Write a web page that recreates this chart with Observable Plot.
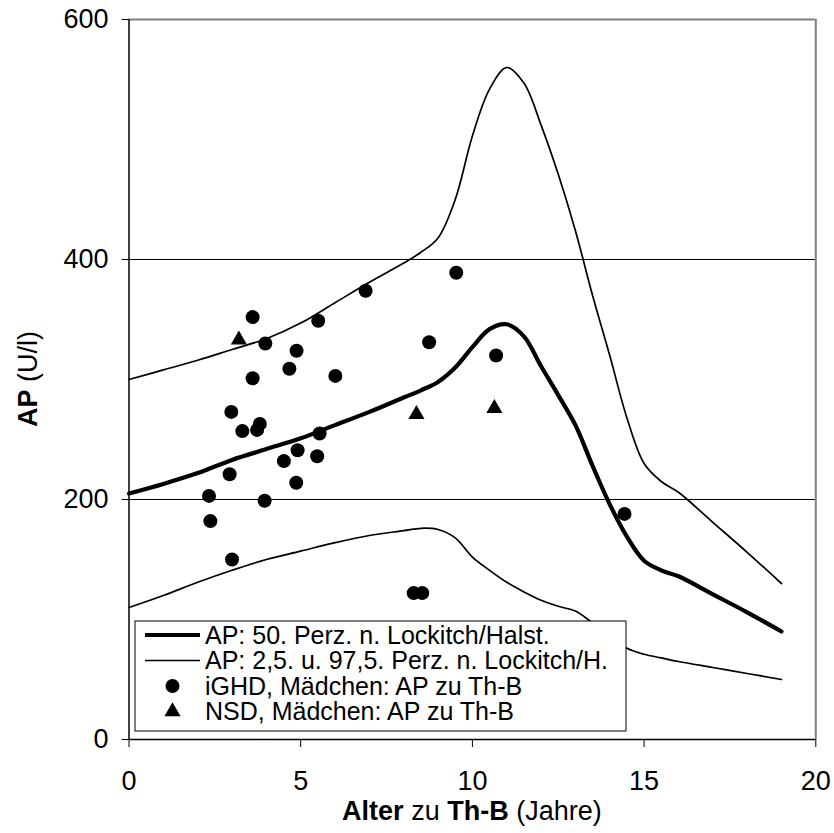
<!DOCTYPE html>
<html>
<head>
<meta charset="utf-8">
<script src="https://cdn.jsdelivr.net/npm/d3@7"></script>
<script src="https://cdn.jsdelivr.net/npm/@observablehq/plot@0.6"></script>
<style>
  body { margin: 0; background: #fff; }
  #chart { position: relative; width: 834px; height: 833px; }
</style>
</head>
<body>
<div id="chart"></div>
<script>
// Percentile curves (Lockitch/Halstead), age in years
const ages  = [0, 1, 2, 3, 4, 5, 6, 7, 8, 8.5, 9, 9.5, 10, 10.5, 11, 11.5, 12, 12.5, 13, 13.5, 14, 14.5, 15, 15.5, 16, 17, 18, 19];
const p975  = [300, 308, 316, 325, 334, 347, 364, 381, 397, 406, 418, 450, 503, 542, 560, 547, 512, 471, 424, 370, 320, 268, 230, 215, 206, 181, 156, 130];
const p50   = [205, 213, 222, 233, 242, 251, 262, 273, 285, 291, 298, 310, 327, 342, 346, 336, 311, 287, 262, 228, 196, 169, 149, 141, 136, 121, 106, 90];
const p025  = [110, 120, 131, 141, 150, 157, 164, 170, 174, 176, 175, 168, 152, 141, 131, 123, 116, 111, 107, 97, 86, 76, 71, 68, 65, 60, 55, 50];

// iGHD girls: AP at Th-B
const ighdAge = [3.60, 5.51, 6.89, 3.97, 4.88, 4.67, 3.60, 6.01, 2.98, 3.30, 3.81, 3.73, 5.55, 4.91, 4.51, 5.48, 2.93, 4.87, 2.33, 3.95, 2.37, 3.00, 9.53, 8.74, 10.69, 14.43, 8.29, 8.54];
const ighdAP  = [352, 349, 374, 330, 324, 309, 301, 303, 273, 257, 263, 258, 255, 241, 232, 236, 221, 214, 203, 199, 182, 150, 389, 331, 320, 188, 122, 122];

// NSD girls: AP at Th-B
const nsdAge = [3.20, 8.37, 10.64];
const nsdAP  = [333, 271, 276];

const xTicks = [0, 5, 10, 15, 20];
const yTicks = [0, 200, 400, 600];
const gridValues = [200, 400];

const legendLabels = [
  "AP: 50. Perz. n. Lockitch/Halst.",
  "AP: 2,5. u. 97,5. Perz. n. Lockitch/H.",
  "iGHD, Mädchen: AP zu Th-B",
  "NSD, Mädchen: AP zu Th-B"
];

const toRows = (xs, ys) => xs.map((a, i) => ({age: a, ap: ys[i]}));
const FONT = "'Liberation Sans', Arial, Helvetica, sans-serif";

const chart = Plot.plot({
  width: 834,
  height: 833,
  marginLeft: 128.5,
  marginRight: 18.7,
  marginTop: 19,
  marginBottom: 94,
  style: {fontFamily: FONT, fontSize: "27px", color: "black", background: "white", overflow: "visible"},
  x: {domain: [0, 20], ticks: xTicks, tickSize: 8, tickPadding: 23, label: null, tickFormat: d => String(d)},
  y: {domain: [0, 600], ticks: yTicks, tickSize: 7, tickPadding: 13.5, label: null, tickFormat: d => String(d)},
  marks: [
    Plot.ruleY(gridValues, {stroke: "black", strokeWidth: 1}),
    Plot.ruleY([600], {stroke: "#808080", strokeWidth: 2}),
    Plot.ruleX([20], {stroke: "#808080", strokeWidth: 2}),
    Plot.line(toRows(ages, p975), {x: "age", y: "ap", curve: "catmull-rom", stroke: "black", strokeWidth: 1.7}),
    Plot.line(toRows(ages, p025), {x: "age", y: "ap", curve: "catmull-rom", stroke: "black", strokeWidth: 1.7}),
    Plot.line(toRows(ages, p50), {x: "age", y: "ap", curve: "catmull-rom", stroke: "black", strokeWidth: 4.2}),
    Plot.dot(toRows(ighdAge, ighdAP), {x: "age", y: "ap", r: 7, symbol: "circle", fill: "black", stroke: "none"}),
    Plot.dot(toRows(nsdAge, nsdAP), {x: "age", y: "ap", r: 6, symbol: "triangle", fill: "black", stroke: "none"}),
    Plot.ruleX([0], {stroke: "black", strokeWidth: 1.5}),
    Plot.ruleY([0], {stroke: "black", strokeWidth: 1.5})
  ]
});

document.getElementById("chart").appendChild(chart);

const svg = d3.select(chart);

// Axis titles with mixed bold
const xt = svg.append("text")
  .attr("x", 471.9).attr("y", 820)
  .attr("text-anchor", "middle")
  .attr("font-family", FONT).attr("font-size", 27).attr("fill", "black");
xt.append("tspan").attr("font-weight", "bold").text("Alter");
xt.append("tspan").text(" zu ");
xt.append("tspan").attr("font-weight", "bold").text("Th-B");
xt.append("tspan").text(" (Jahre)");

const yt = svg.append("text")
  .attr("transform", "translate(37,379) rotate(-90)")
  .attr("text-anchor", "middle")
  .attr("font-family", FONT).attr("font-size", 27).attr("fill", "black");
yt.append("tspan").attr("font-weight", "bold").text("AP");
yt.append("tspan").text(" (U/l)");

// Legend box inside the plot area
const lg = svg.append("g").attr("font-family", FONT).attr("font-size", 25).attr("text-anchor", "start");
const lx = 135, ly = 621, lw = 491, lh = 110;
lg.append("rect").attr("x", lx).attr("y", ly).attr("width", lw).attr("height", lh)
  .attr("fill", "white").attr("stroke", "black").attr("stroke-width", 1);
const rowY = i => ly + 14 + i * 25.5;
const sx0 = lx + 10, sx1 = lx + 65, scx = (sx0 + sx1) / 2;
lg.append("line").attr("x1", sx0).attr("x2", sx1).attr("y1", rowY(0)).attr("y2", rowY(0))
  .attr("stroke", "black").attr("stroke-width", 4.2);
lg.append("line").attr("x1", sx0).attr("x2", sx1).attr("y1", rowY(1)).attr("y2", rowY(1))
  .attr("stroke", "black").attr("stroke-width", 1.7);
lg.append("circle").attr("cx", scx).attr("cy", rowY(2)).attr("r", 7).attr("fill", "black");
lg.append("path").attr("d", d3.symbol(d3.symbolTriangle, Math.PI * 36)())
  .attr("transform", `translate(${scx},${rowY(3)})`).attr("fill", "black");
legendLabels.forEach((t, i) => {
  lg.append("text").attr("x", lx + 70).attr("y", rowY(i)).attr("dy", "0.35em")
    .attr("text-anchor", "start").attr("fill", "black").text(t);
});
</script>
</body>
</html>
